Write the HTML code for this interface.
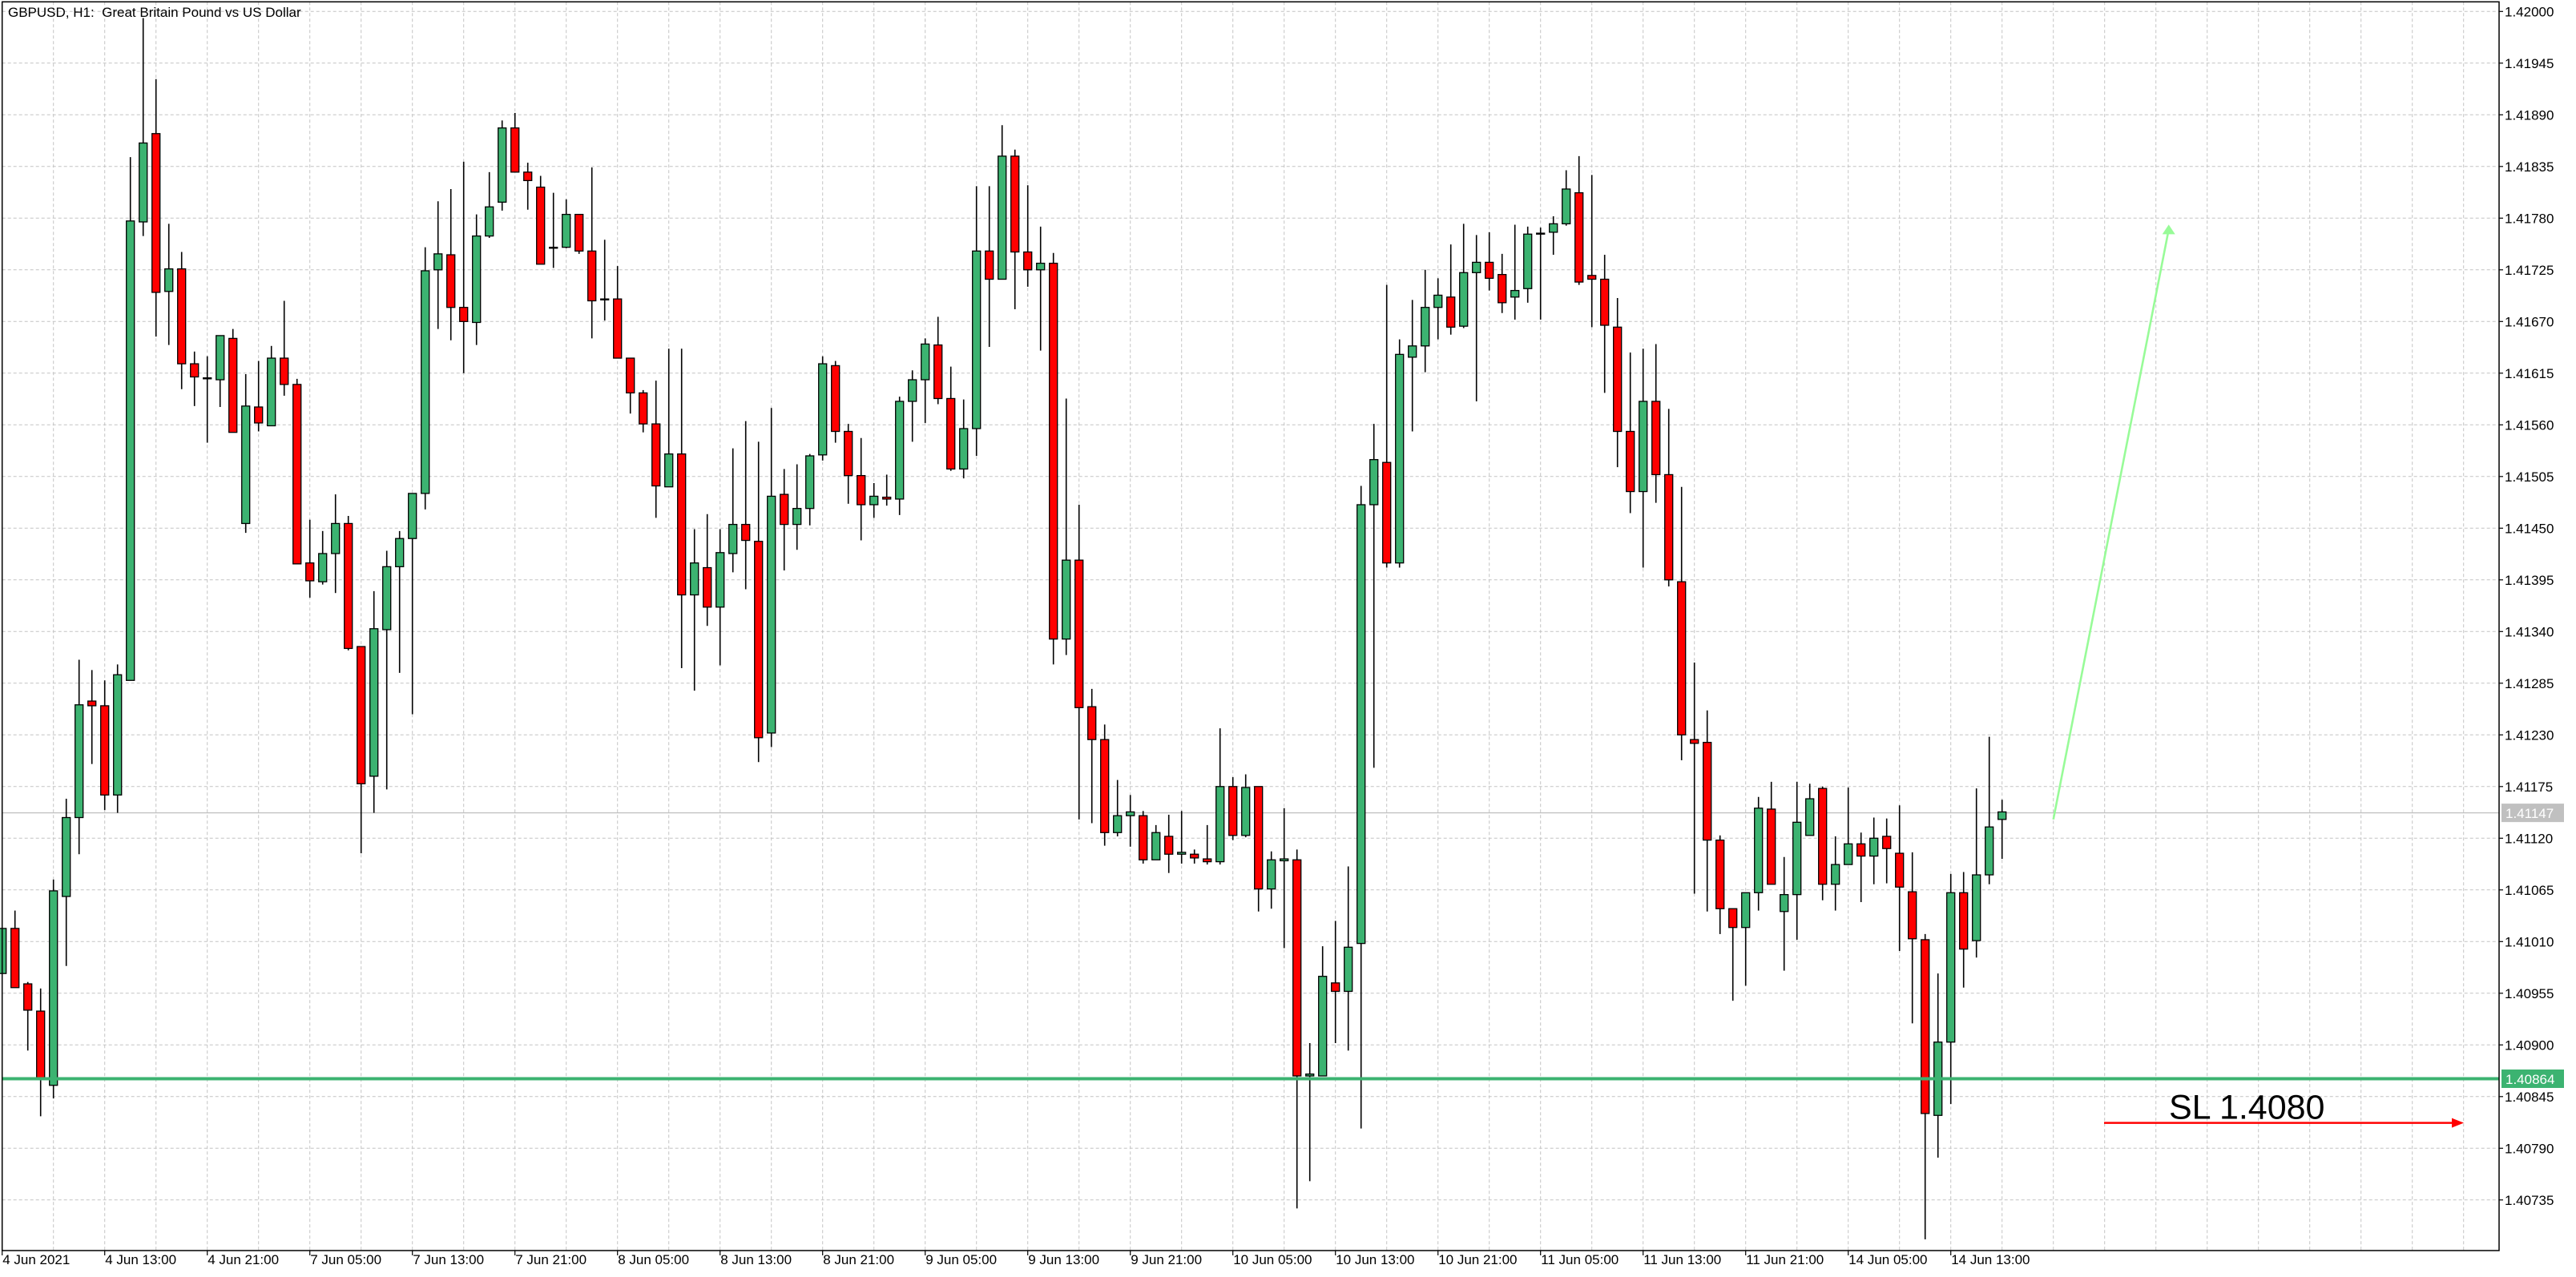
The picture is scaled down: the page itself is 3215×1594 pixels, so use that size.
<!DOCTYPE html>
<html>
<head>
<meta charset="utf-8">
<title>GBPUSD H1</title>
<style>
  html,body{margin:0;padding:0;background:#fff;}
  body{width:3215px;height:1594px;overflow:hidden;}
  svg{display:block;font-family:"Liberation Sans",Arial,sans-serif;}
</style>
</head>
<body>
<svg id="chart" width="3215" height="1594" viewBox="0 0 3215 1594" xmlns="http://www.w3.org/2000/svg">
  <rect x="0" y="0" width="3215" height="1594" fill="#ffffff"/>
  <g id="grid"></g>
  <g id="candles"></g>
  <g id="overlays"></g>
  <g id="axes"></g>
  <text x="10" y="21" font-size="17" fill="#000">GBPUSD, H1:&#160;&#160;Great Britain Pound vs US Dollar</text>
</svg>
<script>
const opens = [1.40976,1.41024,1.40965,1.40936,1.40857,1.41058,1.41142,1.41266,1.41261,1.41166,
1.41288,1.41776,1.41870,1.41702,1.41726,1.41625,1.41609,1.41608,1.41652,1.41455,
1.41579,1.41559,1.41631,1.41603,1.41413,1.41393,1.41423,1.41455,1.41324,1.41186,
1.41342,1.41409,1.41439,1.41487,1.41725,1.41741,1.41685,1.41669,1.41761,1.41797,
1.41876,1.41829,1.41813,1.41748,1.41749,1.41784,1.41745,1.41693,1.41694,1.41631,
1.41594,1.41561,1.41494,1.41529,1.41379,1.41408,1.41366,1.41423,1.41454,1.41436,
1.41232,1.41486,1.41454,1.41471,1.41528,1.41623,1.41553,1.41506,1.41475,1.41483,
1.41481,1.41585,1.41608,1.41645,1.41588,1.41513,1.41556,1.41745,1.41715,1.41846,
1.41744,1.41725,1.41732,1.41332,1.41416,1.41260,1.41225,1.41126,1.41144,1.41144,
1.41097,1.41122,1.41103,1.41103,1.41098,1.41095,1.41175,1.41123,1.41175,1.41066,
1.41096,1.41097,1.40867,1.40867,1.40966,1.40957,1.41008,1.41475,1.41520,1.41413,
1.41632,1.41644,1.41685,1.41696,1.41665,1.41722,1.41733,1.41720,1.41696,1.41705,
1.41763,1.41765,1.41774,1.41807,1.41719,1.41715,1.41664,1.41553,1.41489,1.41585,
1.41507,1.41393,1.41225,1.41222,1.41118,1.41045,1.41025,1.41062,1.41151,1.41042,
1.41060,1.41123,1.41173,1.41071,1.41092,1.41114,1.41101,1.41122,1.41104,1.41063,
1.41012,1.40825,1.40903,1.41062,1.41011,1.41081,1.41140];
const closes = [1.41024,1.40961,1.40937,1.40865,1.41064,1.41142,1.41262,1.41261,1.41166,1.41294,
1.41777,1.41860,1.41701,1.41726,1.41625,1.41611,1.41610,1.41655,1.41552,1.41580,
1.41562,1.41631,1.41603,1.41412,1.41394,1.41423,1.41455,1.41322,1.41178,1.41343,
1.41409,1.41439,1.41487,1.41724,1.41742,1.41685,1.41670,1.41761,1.41792,1.41876,
1.41829,1.41820,1.41731,1.41749,1.41784,1.41745,1.41692,1.41694,1.41631,1.41594,
1.41561,1.41495,1.41529,1.41379,1.41413,1.41366,1.41424,1.41454,1.41437,1.41227,
1.41484,1.41454,1.41471,1.41527,1.41625,1.41553,1.41506,1.41475,1.41484,1.41481,
1.41585,1.41608,1.41646,1.41588,1.41513,1.41556,1.41745,1.41715,1.41846,1.41744,
1.41725,1.41732,1.41332,1.41416,1.41259,1.41225,1.41126,1.41144,1.41148,1.41097,
1.41126,1.41103,1.41105,1.41099,1.41095,1.41175,1.41123,1.41174,1.41066,1.41097,
1.41098,1.40867,1.40869,1.40973,1.40957,1.41004,1.41475,1.41523,1.41413,1.41635,
1.41644,1.41685,1.41698,1.41664,1.41722,1.41733,1.41716,1.41690,1.41703,1.41763,
1.41764,1.41774,1.41811,1.41712,1.41715,1.41666,1.41553,1.41489,1.41585,1.41507,
1.41395,1.41230,1.41221,1.41118,1.41045,1.41025,1.41062,1.41152,1.41071,1.41060,
1.41137,1.41162,1.41071,1.41092,1.41114,1.41101,1.41120,1.41109,1.41068,1.41013,
1.40827,1.40903,1.41062,1.41002,1.41081,1.41132,1.41148];
const highs = [1.41024,1.41043,1.40967,1.40960,1.41076,1.41162,1.41310,1.41299,1.41288,1.41305,
1.41845,1.41993,1.41928,1.41774,1.41744,1.41638,1.41633,1.41655,1.41662,1.41614,
1.41628,1.41644,1.41692,1.41609,1.41459,1.41447,1.41486,1.41463,1.41324,1.41383,
1.41426,1.41447,1.41487,1.41749,1.41798,1.41811,1.41840,1.41784,1.41829,1.41884,
1.41892,1.41839,1.41825,1.41807,1.41800,1.41784,1.41834,1.41757,1.41729,1.41631,
1.41597,1.41607,1.41641,1.41641,1.41449,1.41465,1.41449,1.41535,1.41564,1.41542,
1.41578,1.41513,1.41518,1.41529,1.41633,1.41628,1.41561,1.41546,1.41498,1.41507,
1.41590,1.41618,1.41652,1.41675,1.41622,1.41587,1.41814,1.41814,1.41879,1.41853,
1.41815,1.41771,1.41743,1.41588,1.41475,1.41279,1.41241,1.41182,1.41166,1.41149,
1.41134,1.41145,1.41149,1.41108,1.41134,1.41237,1.41185,1.41188,1.41175,1.41106,
1.41152,1.41108,1.40902,1.41005,1.41032,1.41090,1.41495,1.41561,1.41709,1.41651,
1.41693,1.41725,1.41716,1.41752,1.41774,1.41762,1.41765,1.41742,1.41773,1.41771,
1.41770,1.41782,1.41831,1.41846,1.41826,1.41741,1.41695,1.41637,1.41641,1.41646,
1.41577,1.41494,1.41307,1.41256,1.41123,1.41045,1.41062,1.41164,1.41180,1.41100,
1.41180,1.41178,1.41175,1.41122,1.41174,1.41126,1.41142,1.41141,1.41155,1.41105,
1.41018,1.40976,1.41082,1.41084,1.41173,1.41228,1.41161];
const lows = [1.40976,1.40961,1.40894,1.40824,1.40843,1.40984,1.41103,1.41199,1.41150,1.41147,
1.41288,1.41761,1.41654,1.41645,1.41598,1.41580,1.41541,1.41579,1.41552,1.41445,
1.41553,1.41559,1.41591,1.41412,1.41376,1.41390,1.41381,1.41320,1.41104,1.41147,
1.41172,1.41296,1.41252,1.41470,1.41662,1.41650,1.41615,1.41645,1.41759,1.41788,
1.41829,1.41789,1.41731,1.41727,1.41748,1.41742,1.41652,1.41671,1.41631,1.41572,
1.41552,1.41461,1.41494,1.41301,1.41277,1.41346,1.41304,1.41403,1.41385,1.41201,
1.41217,1.41405,1.41427,1.41453,1.41522,1.41541,1.41476,1.41437,1.41461,1.41474,
1.41464,1.41542,1.41562,1.41582,1.41511,1.41503,1.41527,1.41643,1.41715,1.41683,
1.41707,1.41639,1.41305,1.41315,1.41140,1.41136,1.41112,1.41122,1.41111,1.41093,
1.41097,1.41083,1.41093,1.41093,1.41092,1.41092,1.41118,1.41121,1.41042,1.41045,
1.41003,1.40726,1.40755,1.40867,1.40902,1.40894,1.40811,1.41195,1.41408,1.41408,
1.41553,1.41616,1.41651,1.41656,1.41663,1.41585,1.41703,1.41679,1.41672,1.41690,
1.41672,1.41741,1.41772,1.41709,1.41664,1.41594,1.41515,1.41466,1.41408,1.41477,
1.41388,1.41203,1.41061,1.41042,1.41018,1.40947,1.40963,1.41043,1.41071,1.40979,
1.41012,1.41123,1.41054,1.41043,1.41092,1.41052,1.41071,1.41072,1.41000,1.40923,
1.40693,1.40780,1.40837,1.40961,1.40993,1.41071,1.41098];
const priceTicks = ["1.42000","1.41945","1.41890","1.41835","1.41780","1.41725","1.41670","1.41615","1.41560","1.41505","1.41450","1.41395","1.41340","1.41285","1.41230","1.41175","1.41120","1.41065","1.41010","1.40955","1.40900","1.40845","1.40790","1.40735"];
const timeLabels = ["4 Jun 2021","4 Jun 13:00","4 Jun 21:00","7 Jun 05:00","7 Jun 13:00","7 Jun 21:00","8 Jun 05:00","8 Jun 13:00","8 Jun 21:00","9 Jun 05:00","9 Jun 13:00","9 Jun 21:00","10 Jun 05:00","10 Jun 13:00","10 Jun 21:00","11 Jun 05:00","11 Jun 13:00","11 Jun 21:00","14 Jun 05:00","14 Jun 13:00"];
const timeLabelBars = [0,8,16,24,32,40,48,56,64,72,80,88,96,104,112,120,128,136,144,152];
const slLevel = 1.40864;
const currentPrice = 1.41147;
const slText = "SL 1.4080";
const slArrowPrice = 1.40817;
const targetStartBar = 160;
const targetStartPrice = 1.41140;
const targetEndBar = 169;
const targetEndPrice = 1.41768;

const NS = "http://www.w3.org/2000/svg";
const PLOT_L = 2.7, PLOT_R = 3119, PLOT_T = 2.3, PLOT_B = 1561;
function yOf(p){ return 14.3 + (1.42 - p) / 0.00055 * 64.5; }
function xOf(i){ return 2.7 + 16 * i; }
function mk(tag, attrs, parent){
  const e = document.createElementNS(NS, tag);
  for (const k in attrs) e.setAttribute(k, attrs[k]);
  parent.appendChild(e);
  return e;
}
const grid = document.getElementById('grid');
const candlesG = document.getElementById('candles');
const overlays = document.getElementById('overlays');
const axes = document.getElementById('axes');

// horizontal grid
priceTicks.forEach(function(t){
  const y = yOf(parseFloat(t));
  const l = mk('line', {x1: PLOT_L, x2: PLOT_R, y1: y, y2: y, stroke: '#c4c4c4', 'stroke-width': 1, 'stroke-dasharray': '4 3'}, grid);
  
  
});
// vertical grid
for (let x = 66.7; x < PLOT_R; x += 64) {
  const l = mk('line', {x1: x, x2: x, y1: PLOT_T, y2: PLOT_B, stroke: '#c4c4c4', 'stroke-width': 1, 'stroke-dasharray': '4 3'}, grid);
  
  
}
// current price line
(function(){
  const y = yOf(currentPrice);
  const l = mk('line', {x1: PLOT_L, x2: PLOT_R, y1: y, y2: y, stroke: '#c0c0c0', 'stroke-width': 1.2}, grid);
  
  
})();

// candles
for (let i = 0; i < opens.length; i++) {
  const o = opens[i], c = closes[i], h = highs[i], lo = lows[i];
  const x = xOf(i);
  const up = c >= o;
  const g = mk('g', {}, candlesG);
  
  
  const w = mk('line', {x1: x, x2: x, y1: yOf(h), y2: yOf(lo), stroke: '#000', 'stroke-width': 1.6}, g);
  
  
  const yt = yOf(Math.max(o, c)), yb = yOf(Math.min(o, c));
  const r = mk('rect', {x: x - 5, y: yt, width: 10, height: Math.max(1, yb - yt), fill: up ? '#3cb371' : '#ff0000', stroke: '#000', 'stroke-width': 1.3}, g);
  
  
}

// SL horizontal line
(function(){
  const y = yOf(slLevel);
  const l = mk('line', {x1: PLOT_L, x2: PLOT_R, y1: y, y2: y, stroke: '#3cb371', 'stroke-width': 4}, overlays);
  
  
})();

// green target arrow
(function(){
  const x1 = xOf(targetStartBar), y1 = yOf(targetStartPrice);
  const x2 = xOf(targetEndBar), y2 = yOf(targetEndPrice);
  const l = mk('line', {x1: x1, y1: y1, x2: x2, y2: y2, stroke: '#98fb98', 'stroke-width': 2.6}, overlays);
  
  
  const a = mk('polygon', {points: (x2) + ',' + (y2 - 6) + ' ' + (x2 - 8) + ',' + (y2 + 6) + ' ' + (x2 + 8) + ',' + (y2 + 6), fill: '#98fb98'}, overlays);
  
  
})();

// red SL arrow + text
(function(){
  const y = yOf(slArrowPrice);
  const l = mk('line', {x1: 2626, y1: y, x2: 3064, y2: y, stroke: '#ff0000', 'stroke-width': 2.4}, overlays);
  
  
  const a = mk('polygon', {points: '3060,' + (y - 6) + ' 3075,' + y + ' 3060,' + (y + 6), fill: '#ff0000'}, overlays);
  
  
  const t = mk('text', {x: 2707, y: y - 5, 'font-size': 43, fill: '#000'}, overlays);
  t.textContent = slText;
  
  
})();

// frame
(function(){
  const f = mk('rect', {x: PLOT_L, y: PLOT_T, width: PLOT_R - PLOT_L, height: PLOT_B - PLOT_T, fill: 'none', stroke: '#000', 'stroke-width': 1.5}, axes);
  
  
})();

// price axis labels
priceTicks.forEach(function(t){
  const y = yOf(parseFloat(t));
  const tk = mk('line', {x1: PLOT_R, x2: PLOT_R + 5, y1: y, y2: y, stroke: '#000', 'stroke-width': 1.2}, axes);
  
  
  const tx = mk('text', {x: 3126, y: y + 6, 'font-size': 17, fill: '#000'}, axes);
  tx.textContent = t;
  
  
});

// price tag boxes
function priceTag(p, fill, name){
  const y = yOf(p);
  const r = mk('rect', {x: 3122, y: y - 11.5, width: 78, height: 23, fill: fill}, axes);
  
  
  const t = mk('text', {x: 3127, y: y + 6.5, 'font-size': 17, fill: '#ffffff'}, axes);
  t.textContent = p.toFixed(5);
  
  
}
priceTag(currentPrice, '#c0c0c0', 'current-price-tag');
priceTag(slLevel, '#3cb371', 'support-price-tag');

// time axis labels
timeLabels.forEach(function(lbl, k){
  const x = xOf(timeLabelBars[k]);
  const tk = mk('line', {x1: x, x2: x, y1: PLOT_B, y2: PLOT_B + 6, stroke: '#000', 'stroke-width': 1.2}, axes);
  
  
  const tx = mk('text', {x: x + 0.5, y: 1578, 'font-size': 17, fill: '#000'}, axes);
  tx.textContent = lbl;
  
  
});
</script>
</body>
</html>
